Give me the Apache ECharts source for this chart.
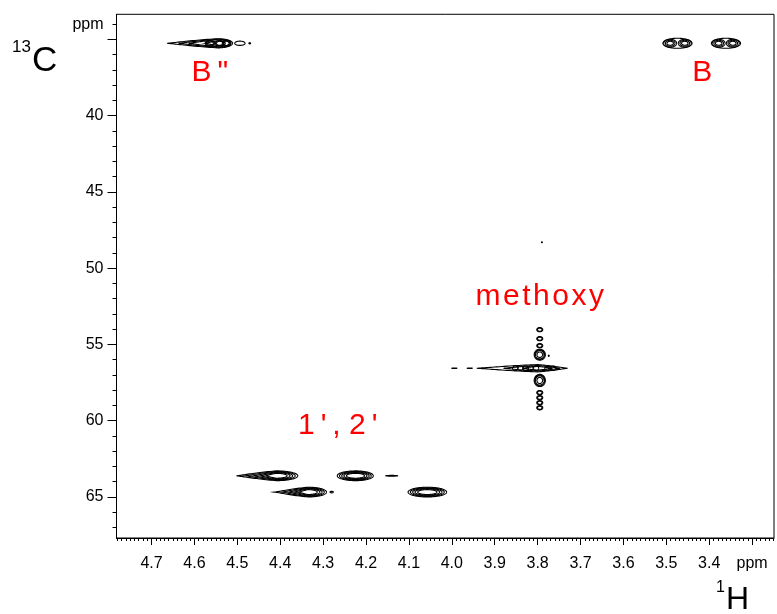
<!DOCTYPE html>
<html>
<head>
<meta charset="utf-8">
<script src="https://cdn.jsdelivr.net/npm/echarts@6/dist/echarts.min.js"></script>
<style>
  html, body { margin: 0; padding: 0; background: #fff; }
  #chart { width: 777px; height: 614px; }
</style>
</head>
<body>
<div id="chart"></div>
<script>
// HSQC spectrum: 1H (horizontal) vs 13C (vertical), both in ppm.

// Axis ranges (ppm)
const hRange = [3.249, 4.7816];
const cRange = [33.35, 67.69];

// Tick values
const hMajorTicks = [3.3, 3.4, 3.5, 3.6, 3.7, 3.8, 3.9, 4.0, 4.1, 4.2, 4.3, 4.4, 4.5, 4.6, 4.7];
const cMajorTicks = [35, 40, 45, 50, 55, 60, 65];
const cLabelTicks = [34, 40, 45, 50, 55, 60, 65];

// Cross peaks: centre (1H, 13C), half-widths towards low ppm (right) and high ppm (left)
// in 1H, half-width in 13C, number of contour levels, tail shape (0 ellipse, 1 left tail, 2 both pointed)
const peakH =      [4.545, 4.564, 4.541, 4.525, 4.494, 4.471,
                    3.474, 3.491, 3.457, 3.361, 3.378, 3.345,
                    3.800, 3.852, 3.840, 3.828, 3.816, 3.804, 3.776, 3.764,
                    3.795, 3.795, 3.795, 3.795, 3.795, 3.795, 3.795, 3.795, 3.795,
                    3.994, 3.958, 3.790, 3.774,
                    4.409, 4.224, 4.140, 4.335, 4.280, 4.057];
const peakC =      [35.25, 35.25, 35.25, 35.25, 35.25, 35.25,
                    35.25, 35.25, 35.25, 35.25, 35.25, 35.25,
                    56.56, 56.56, 56.56, 56.56, 56.56, 56.56, 56.56, 56.56,
                    55.67, 57.36, 54.03, 54.62, 55.08, 58.16, 58.49, 58.82, 59.15,
                    56.56, 56.56, 48.30, 55.74,
                    63.61, 63.61, 63.61, 64.68, 64.68, 64.68];
const peakWRight = [0.034, 0.011, 0.010, 0.010, 0.012, 0.002,
                    0.034, 0.015, 0.015, 0.034, 0.015, 0.015,
                    0.070, 0.0065, 0.0065, 0.0065, 0.0065, 0.0065, 0.007, 0.007,
                    0.013, 0.013, 0.007, 0.007, 0.007, 0.007, 0.007, 0.007, 0.007,
                    0.006, 0.006, 0.001, 0.001,
                    0.050, 0.041, 0.014, 0.043, 0.004, 0.045];
const peakWLeft =  [0.119, 0.011, 0.010, 0.010, 0.012, 0.002,
                    0.034, 0.015, 0.015, 0.034, 0.015, 0.015,
                    0.142, 0.0065, 0.0065, 0.0065, 0.0065, 0.0065, 0.007, 0.007,
                    0.013, 0.013, 0.007, 0.007, 0.007, 0.007, 0.007, 0.007, 0.007,
                    0.006, 0.006, 0.001, 0.001,
                    0.093, 0.043, 0.014, 0.078, 0.004, 0.045];
const peakWC =     [0.30, 0.18, 0.18, 0.19, 0.14, 0.04,
                    0.33, 0.26, 0.26, 0.33, 0.26, 0.26,
                    0.24, 0.15, 0.15, 0.15, 0.15, 0.15, 0.15, 0.15,
                    0.36, 0.40, 0.14, 0.14, 0.14, 0.14, 0.14, 0.14, 0.14,
                    0.02, 0.02, 0.03, 0.04,
                    0.32, 0.32, 0.025, 0.32, 0.05, 0.32];
const peakLevels = [4, 2, 2, 2, 1, 1,
                    1, 3, 3, 1, 3, 3,
                    3, 1, 1, 1, 1, 1, 1, 1,
                    4, 4, 2, 2, 2, 2, 2, 2, 2,
                    1, 1, 1, 1,
                    5, 5, 1, 5, 1, 5];
const peakTail =   [1, 0, 0, 0, 0, 0,
                    0, 0, 0, 0, 0, 0,
                    2, 0, 0, 0, 0, 0, 0, 0,
                    0, 0, 0, 0, 0, 0, 0, 0, 0,
                    0, 0, 0, 0,
                    1, 0, 0, 1, 0, 0];

// Assignment labels
const assignText = ['B\u2009"', 'B', 'm\u200ae\u200at\u200ah\u200ao\u200ax\u200ay', '1\u2009\'\u2009, 2\u2009\''];
const assignH = [4.564, 3.416, 3.795, 4.266];
const assignC = [37.2, 37.2, 51.9, 60.33];

const hMinorTicks = [];
for (let i = 325; i <= 478; i++) {
  if (i % 10 !== 0) hMinorTicks.push(i / 100);
}
const cMinorTicks = [];
for (let v = 34; v <= 67; v++) {
  if (v % 5 !== 0) cMinorTicks.push(v);
}

const FONT = '"Liberation Sans", Arial, Helvetica, sans-serif';

function contourItem(params, api) {
  const i = params.dataIndex;
  const h = peakH[i], c = peakC[i];
  const wr = peakWRight[i], wl = peakWLeft[i], wc = peakWC[i];
  const n = peakLevels[i], tail = peakTail[i];
  const children = [];
  const steps = 120;
  for (let k = 0; k < n; k++) {
    // outer levels sit close together, the innermost one is smaller
    const s = n >= 4 ? (k < n - 1 ? 1 - 0.12 * k : 0.5) : 1 - k * 0.25;
    const wrK = wr * s;
    const wlK = tail ? Math.max(wr * s, wl * s * s) : wl * s;
    const pts = [];
    for (let j = 0; j <= steps; j++) {
      const t = (j / steps) * 2 * Math.PI;
      const ct = Math.cos(t), st = Math.sin(t);
      let dh, dc;
      if (ct >= 0) {
        dh = wrK * ct;
        dc = wc * s * st * (tail === 2 ? Math.pow(1 - ct, 0.6) : 1);
      } else {
        dh = wlK * ct;
        dc = wc * s * st * (tail ? Math.pow(1 + ct, 0.6) : 1);
      }
      pts.push(api.coord([h - dh, c + dc]));
    }
    children.push({
      type: 'polyline',
      shape: { points: pts },
      style: { stroke: '#000', lineWidth: 1.1, fill: null }
    });
  }
  return { type: 'group', children: children };
}

function assignItem(params, api) {
  const i = params.dataIndex;
  const p = api.coord([assignH[i], assignC[i]]);
  return {
    type: 'text',
    x: p[0],
    y: p[1],
    style: {
      text: assignText[i],
      fill: '#ff0000',
      fontSize: 30,
      fontFamily: FONT,
      align: 'center',
      verticalAlign: 'middle'
    }
  };
}

const chart = echarts.init(document.getElementById('chart'), null, { renderer: 'canvas' });

const axisBase = {
  type: 'value',
  inverse: true,
  splitLine: { show: false },
  axisLine: { show: true, onZero: false, lineStyle: { color: '#000', width: 1 } }
};

chart.setOption({
  animation: false,
  backgroundColor: '#fff',
  grid: {
    left: 116.5, right: 3, top: 14.3, bottom: 76,
    show: true, borderColor: '#000', borderWidth: 1, backgroundColor: 'transparent'
  },
  xAxis: [
    Object.assign({}, axisBase, {
      position: 'bottom',
      min: hRange[0], max: hRange[1],
      axisTick: { show: true, length: 7, customValues: hMajorTicks, lineStyle: { color: '#000' } },
      axisLabel: {
        show: true, customValues: hMajorTicks, margin: 18,
        color: '#000', fontSize: 16, fontFamily: FONT,
        formatter: v => (Math.abs(v - 3.3) < 1e-6 ? 'ppm' : v.toFixed(1))
      }
    }),
    Object.assign({}, axisBase, {
      position: 'bottom',
      min: hRange[0], max: hRange[1],
      axisLine: { show: false },
      axisTick: { show: true, length: 3, customValues: hMinorTicks, lineStyle: { color: '#000' } },
      axisLabel: { show: false }
    })
  ],
  yAxis: [
    Object.assign({}, axisBase, {
      position: 'left',
      min: cRange[0], max: cRange[1],
      axisTick: { show: true, length: 9, customValues: cMajorTicks, lineStyle: { color: '#000' } },
      axisLabel: {
        show: true, customValues: cLabelTicks, margin: 13,
        color: '#000', fontSize: 16, fontFamily: FONT,
        formatter: v => (v === 34 ? 'ppm' : String(v))
      }
    }),
    Object.assign({}, axisBase, {
      position: 'left',
      min: cRange[0], max: cRange[1],
      axisLine: { show: false },
      axisTick: { show: true, length: 4, customValues: cMinorTicks, lineStyle: { color: '#000' } },
      axisLabel: { show: false }
    })
  ],
  graphic: [
    { type: 'text', x: 12, y: 47, style: { text: '13', fontSize: 17, fontFamily: FONT, fill: '#000', verticalAlign: 'middle' } },
    { type: 'text', x: 32, y: 61, style: { text: 'C', fontSize: 35, fontFamily: FONT, fill: '#000', verticalAlign: 'middle' } },
    { type: 'text', x: 716, y: 588, style: { text: '1', fontSize: 16, fontFamily: FONT, fill: '#000', verticalAlign: 'middle' } },
    { type: 'text', x: 726, y: 600, style: { text: 'H', fontSize: 32, fontFamily: FONT, fill: '#000', verticalAlign: 'middle' } }
  ],
  series: [
    {
      type: 'custom',
      name: 'contours',
      xAxisIndex: 0, yAxisIndex: 0,
      clip: true,
      renderItem: contourItem,
      encode: { x: 0, y: 1 },
      data: peakH.map((h, i) => [h, peakC[i]])
    },
    {
      type: 'custom',
      name: 'assignments',
      xAxisIndex: 0, yAxisIndex: 0,
      renderItem: assignItem,
      encode: { x: 0, y: 1 },
      data: assignH.map((h, i) => [h, assignC[i]])
    }
  ]
});
</script>
</body>
</html>
